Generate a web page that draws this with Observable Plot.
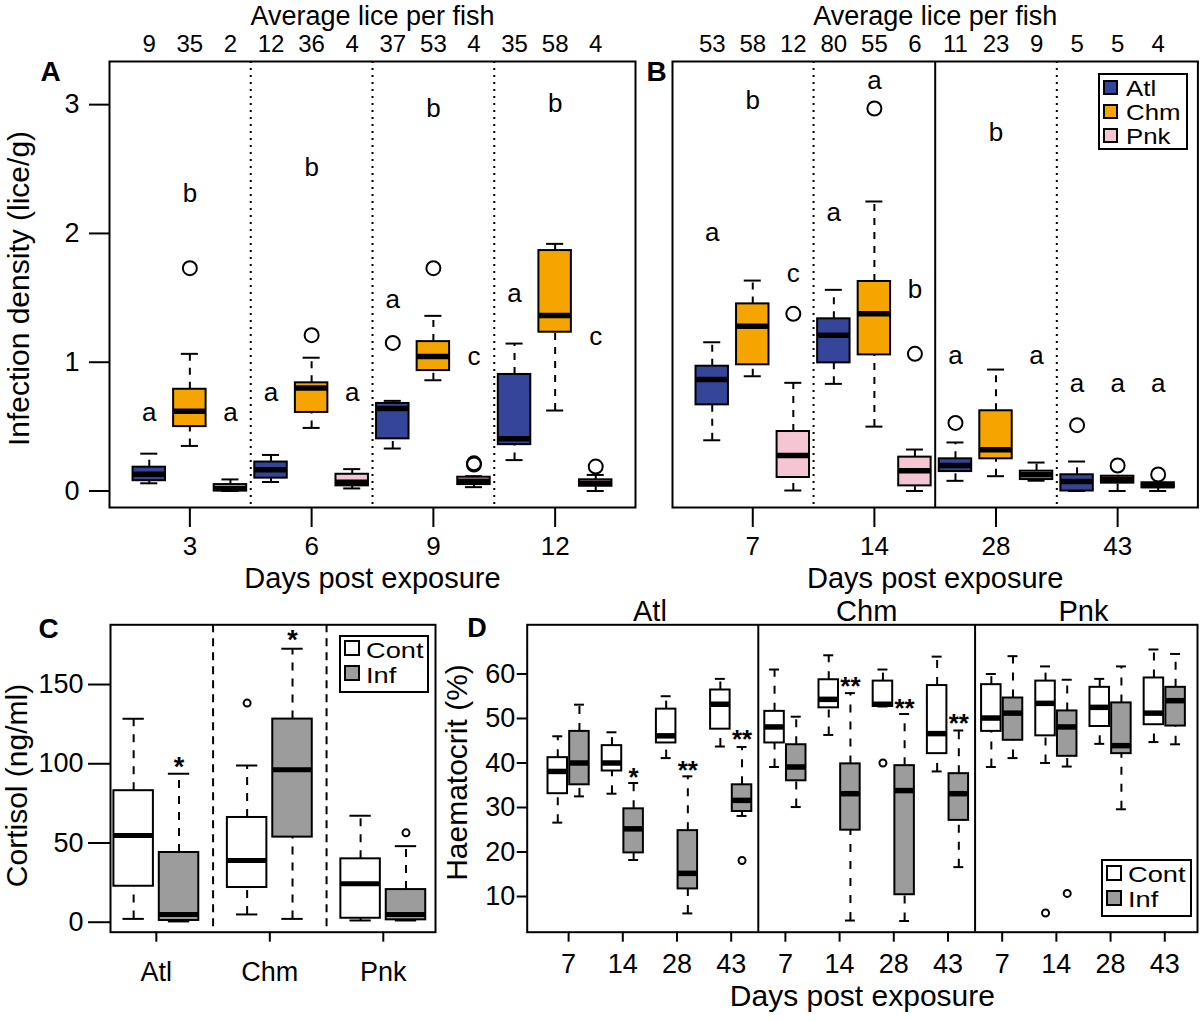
<!DOCTYPE html>
<html>
<head>
<meta charset="utf-8">
<script src="https://cdn.jsdelivr.net/npm/d3@7"></script>
<script src="https://cdn.jsdelivr.net/npm/@observablehq/plot@0.6"></script>
<style>
  body { margin: 0; background: #fff; }
  #root { position: relative; width: 1200px; height: 1021px; overflow: hidden; background: #fff;
          font-family: "Liberation Sans", Arial, Helvetica, sans-serif; color: #000; }
  .panel { position: absolute; }
  .legend { position: absolute; box-sizing: border-box; border: 2px solid #000; background: #fff; }
  .legend .inner { position: relative; }
  .legend .row { display: flex; align-items: center; white-space: nowrap; }
  .legend .sw { box-sizing: border-box; border: 2px solid #000; flex: none; }
  .legend .lab { display: inline-block; position: relative; transform-origin: 0 50%; }
</style>
</head>
<body>
<div id="root"></div>
<script>
// ---------- shared categories ----------
const species = ["Atl", "Chm", "Pnk"];
const speciesColors = ["#35469a", "#f6a500", "#f5c5d3"];
const treatments = ["Cont", "Inf"];
const treatColors = ["#ffffff", "#9c9c9c"];

// ---------- Panel A: infection density, days 3-12 ----------
const daysA = [3, 6, 9, 12];
const liceA = [9, 35, 2, 12, 36, 4, 37, 53, 4, 35, 58, 4];
const loA  = [0.06, 0.35, 0.00, 0.07, 0.49, 0.02, 0.33, 0.86, 0.03, 0.24, 0.625, 0.00];
const q1A  = [0.08, 0.50, 0.00, 0.10, 0.61, 0.04, 0.405, 0.935, 0.05, 0.36, 1.233, 0.037];
const medA = [0.13, 0.62, 0.02, 0.165, 0.80, 0.068, 0.64, 1.045, 0.076, 0.405, 1.363, 0.06];
const q3A  = [0.185, 0.79, 0.05, 0.225, 0.84, 0.13, 0.68, 1.16, 0.107, 0.905, 1.867, 0.087];
const hiA  = [0.29, 1.065, 0.09, 0.28, 1.035, 0.17, 0.70, 1.36, 0.115, 1.145, 1.919, 0.125];
const outA = [[], [1.73], [], [], [1.21], [], [1.15], [1.73], [0.205, 0.215], [], [], [0.19]];
const letterA  = ["a", "b", "a", "a", "b", "a", "a", "b", "c", "a", "b", "c"];
const letterYA = [0.61, 2.31, 0.61, 0.767, 2.514, 0.767, 1.485, 2.967, 1.04, 1.53, 3.006, 1.2];

// ---------- Panel B: infection density, days 7-43 ----------
const daysB = [7, 14, 28, 43];
const liceB = [53, 58, 12, 80, 55, 6, 11, 23, 9, 5, 5, 4];
const loB  = [0.394, 0.891, 0.004, 0.832, 0.50, 0.0, 0.079, 0.115, 0.08, 0.0, 0.0, 0.0];
const q1B  = [0.669, 0.98, 0.105, 0.995, 1.057, 0.04, 0.151, 0.25, 0.089, 0.0, 0.061, 0.025];
const medB = [0.866, 1.28, 0.276, 1.21, 1.376, 0.157, 0.198, 0.32, 0.126, 0.074, 0.089, 0.043];
const q3B  = [0.969, 1.453, 0.462, 1.337, 1.627, 0.263, 0.25, 0.623, 0.154, 0.126, 0.115, 0.064];
const hiB  = [1.155, 1.634, 0.84, 1.562, 2.248, 0.322, 0.377, 0.943, 0.221, 0.229, 0.115, 0.064];
const outB = [[], [], [1.376], [], [2.97], [1.065], [0.529], [], [], [0.511], [0.198], [0.128]];
const letterB  = ["a", "b", "c", "a", "a", "b", "a", "b", "a", "a", "a", "a"];
const letterYB = [2.009, 3.03, 1.686, 2.165, 3.187, 1.562, 1.052, 2.786, 1.052, 0.837, 0.837, 0.837];

// ---------- Panel C: cortisol ----------
const loC  = [2.1, 0.5, 4.9, 2.1, 1.1, 1.1];
const q1C  = [22.7, 1.1, 21.9, 53.7, 2.5, 1.5];
const medC = [54.7, 4.9, 39.0, 96.2, 24.2, 4.9];
const q3C  = [83.0, 44.0, 66.1, 128.2, 40.0, 20.6];
const hiC  = [128.4, 93.7, 98.9, 172.6, 67.2, 48.0];
const outC = [[], [], [138.3], [], [], [56.4]];
const starC  = ["", "*", "", "*", "", ""];
const starYC = [null, 102, null, 182, null, null];

// ---------- Panel D: haematocrit (species x day x treatment) ----------
const loD  = [26.6, 32.5, 33.1, 18.2, 41.1, 6.2, 43.7, 28.1,
              39.1, 30.1, 46.3, 4.6, 52.7, 4.5, 38.1, 16.6,
              39.1, 41.1, 40.0, 39.2, 44.3, 29.6, 44.7, 44.2];
const q1D  = [33.1, 35.1, 38.2, 19.8, 44.5, 11.7, 47.6, 29.1,
              44.5, 36.0, 52.4, 24.9, 52.7, 10.4, 42.1, 27.1,
              47.1, 45.1, 46.1, 41.5, 48.2, 42.1, 48.6, 48.3];
const medD = [38.1, 40.0, 40.0, 25.2, 46.1, 15.2, 53.2, 31.6,
              48.1, 39.1, 54.3, 33.1, 53.2, 33.8, 46.6, 33.1,
              50.1, 51.2, 53.4, 48.1, 52.5, 43.9, 51.2, 54.0];
const q3D  = [41.2, 47.1, 43.9, 29.7, 52.1, 24.8, 56.4, 35.1,
              51.6, 44.1, 58.7, 39.8, 58.4, 39.4, 57.4, 37.6,
              57.6, 54.6, 58.4, 51.7, 57.0, 53.5, 59.1, 57.0];
const hiD  = [46.0, 53.1, 46.9, 35.5, 55.0, 37.0, 58.9, 43.6,
              61.0, 50.4, 64.2, 55.7, 61.0, 51.0, 63.9, 47.3,
              60.0, 64.0, 61.7, 58.7, 58.9, 61.7, 65.5, 64.5];
const outD = [[], [], [], [], [], [], [], [18.1],
              [], [], [], [], [40.0], [], [], [],
              [], [], [6.3], [10.7], [], [], [], []];
const starD  = ["", "", "", "*", "", "**", "", "**",
                "", "", "", "**", "", "**", "", "**",
                "", "", "", "", "", "", "", ""];
const starYD = [null, null, null, 38.3, null, 39.8, null, 46.7,
                null, null, null, 58.7, null, 53.8, null, 50.5,
                null, null, null, null, null, null, null, null];

// ---------- helpers ----------
const FONT = '"Liberation Sans", Arial, Helvetica, sans-serif';
const baseStyle = {fontFamily: FONT, fontSize: "27px", background: "transparent", overflow: "visible", color: "#000"};
const intFmt = d => String(d);

function boxMarks(rows, o) {
  const outs = rows.flatMap(d => d.out.map(v => ({pos: d.pos, v})));
  return [
    Plot.ruleX(rows, {x: "pos", y1: "q3", y2: "hi", stroke: "black", strokeWidth: o.lw, strokeDasharray: o.dash}),
    Plot.ruleX(rows, {x: "pos", y1: "lo", y2: "q1", stroke: "black", strokeWidth: o.lw, strokeDasharray: o.dash}),
    Plot.ruleY(rows, {y: "hi", x1: d => d.pos - o.cap, x2: d => d.pos + o.cap, stroke: "black", strokeWidth: o.lw}),
    Plot.ruleY(rows, {y: "lo", x1: d => d.pos - o.cap, x2: d => d.pos + o.cap, stroke: "black", strokeWidth: o.lw}),
    Plot.rect(rows, {x1: d => d.pos - o.half, x2: d => d.pos + o.half, y1: "q1", y2: "q3",
                     fill: "fill", stroke: "black", strokeWidth: o.lw}),
    Plot.ruleY(rows, {y: "med", x1: d => d.pos - o.half, x2: d => d.pos + o.half, stroke: "black", strokeWidth: o.medW}),
    Plot.dot(outs, {x: "pos", y: "v", r: o.r, stroke: "black", strokeWidth: o.lw, fill: "none"})
  ];
}

function yTitle(text, dx, dy) {
  return Plot.text([text], {text: d => d, frameAnchor: "left", textAnchor: "middle", lineAnchor: "middle",
                            rotate: -90, dx, dy, fontSize: 30});
}

function place(el, left, top) {
  const wrap = document.createElement("div");
  wrap.className = "panel";
  wrap.style.left = left + "px";
  wrap.style.top = top + "px";
  wrap.appendChild(el);
  document.getElementById("root").appendChild(wrap);
}

function legend({left, top, width, height, items, fontSize, stretch, textDy, sw, swLeft, gap, rowH, shift}) {
  const div = document.createElement("div");
  div.className = "legend";
  Object.assign(div.style, {left: left + "px", top: top + "px", width: width + "px", height: height + "px"});
  const inner = document.createElement("div");
  inner.className = "inner";
  inner.style.top = shift + "px";
  items.forEach(([label, color]) => {
    const row = document.createElement("div");
    row.className = "row";
    row.style.height = rowH + "px";
    row.style.fontSize = fontSize + "px";
    const s = document.createElement("div");
    s.className = "sw";
    Object.assign(s.style, {width: sw + "px", height: sw + "px", background: color, marginLeft: swLeft + "px", marginRight: gap + "px"});
    const t = document.createElement("span");
    t.className = "lab";
    Object.assign(t.style, {height: rowH + "px", lineHeight: rowH + "px", top: textDy + "px",
                            transform: `scaleX(${stretch})`});
    t.textContent = label;
    row.appendChild(s);
    row.appendChild(t);
    inner.appendChild(row);
  });
  div.appendChild(inner);
  document.getElementById("root").appendChild(div);
}

// ---------- Panels A and B ----------
function densityRows(lice, lo, q1, med, q3, hi, out, letter, letterY) {
  return lice.map((n, i) => ({
    pos: i + 1, lo: lo[i], q1: q1[i], med: med[i], q3: q3[i], hi: hi[i], out: out[i],
    fill: speciesColors[i % species.length], lice: n, letter: letter[i], letY: letterY[i]
  }));
}
const rowsA = densityRows(liceA, loA, q1A, medA, q3A, hiA, outA, letterA, letterYA);
const rowsB = densityRows(liceB, loB, q1B, medB, q3B, hiB, outB, letterB, letterYB);
const densOpts = {half: 0.4, cap: 0.21, lw: 2, medW: 5.5, r: 7, dash: "7,7"};
const yDomAB = [-0.128, 3.335];
const xDomAB = [0.02, 12.98];

function densityPlot({rows, days, width, marginLeft, separators, solid, yAxis, letter}) {
  const tickMap = new Map(days.map((d, g) => [2 + 3 * g, d]));
  const marks = [
    Plot.ruleX(separators, {stroke: "black", strokeWidth: 2, strokeDasharray: "2,5"}),
    Plot.ruleX(solid, {stroke: "black", strokeWidth: 2}),
    ...boxMarks(rows, densOpts),
    Plot.text(rows, {x: "pos", y: "letY", text: "letter", fontSize: 26}),
    Plot.text(rows, {x: "pos", text: "lice", frameAnchor: "top", dy: -9.3, lineAnchor: "bottom", fontSize: 24}),
    Plot.text(["Average lice per fish"], {text: d => d, frameAnchor: "top", dy: -37, lineAnchor: "bottom", fontSize: 27}),
    Plot.axisX({ticks: [...tickMap.keys()], tickFormat: d => tickMap.get(d), tickSize: 20, tickPadding: 9.5,
                strokeWidth: 2, fontSize: 26, label: null}),
    Plot.text(["Days post exposure"], {text: d => d, frameAnchor: "bottom", dy: 80, lineAnchor: "bottom", fontSize: 29}),
    Plot.text([letter], {text: d => d, frameAnchor: "top-left", textAnchor: "start", lineAnchor: "bottom",
                         dx: letter === "A" ? -69 : -26, dy: 19, fontWeight: "bold", fontSize: 28}),
    Plot.frame({stroke: "black", strokeWidth: 2})
  ];
  if (yAxis) {
    marks.push(
      Plot.axisY({ticks: [0, 1, 2, 3], tickFormat: intFmt, tickSize: 20, tickPadding: 10, strokeWidth: 2, fontSize: 27, label: null}),
      yTitle("Infection density (lice/g)", -90, 4)
    );
  }
  return Plot.plot({
    width, height: 590, marginLeft, marginRight: width === 640 ? 5 : 2.6, marginTop: 61, marginBottom: 83,
    x: {domain: xDomAB}, y: {domain: yDomAB, axis: yAxis ? undefined : null},
    color: {type: "identity"},
    style: baseStyle,
    marks
  });
}

place(densityPlot({rows: rowsA, days: daysA, width: 640, marginLeft: 109, separators: [3.5, 6.5, 9.5], solid: [], yAxis: true, letter: "A"}), 0, 0);
place(densityPlot({rows: rowsB, days: daysB, width: 560, marginLeft: 32, separators: [3.5, 9.5], solid: [6.5], yAxis: false, letter: "B"}), 640, 0);

legend({left: 1098, top: 73, width: 90, height: 77, fontSize: 21.5, stretch: 1.2, textDy: 1.5,
        sw: 15, swLeft: 3, gap: 7.7, rowH: 24.1, shift: 0,
        items: species.map((s, i) => [s, speciesColors[i]])});

// ---------- Panel C ----------
const rowsC = loC.map((_, i) => ({
  pos: 1 + 2.5 * Math.floor(i / 2) + (i % 2), lo: loC[i], q1: q1C[i], med: medC[i], q3: q3C[i], hi: hiC[i],
  out: outC[i], fill: treatColors[i % 2], star: starC[i], starY: starYC[i]
}));
const tickMapC = new Map(species.map((s, g) => [1.5 + 2.5 * g, s]));
const plotC = Plot.plot({
  width: 440, height: 431, marginLeft: 110, marginRight: 5, marginTop: 34.3, marginBottom: 89.3,
  x: {domain: [0.49, 7.65]}, y: {domain: [-6.3, 187.7]},
  color: {type: "identity"},
  style: baseStyle,
  marks: [
    Plot.ruleX([2.75, 5.25], {stroke: "black", strokeWidth: 2, strokeDasharray: "8,6"}),
    ...boxMarks(rowsC, {half: 0.435, cap: 0.235, lw: 2, medW: 5, r: 3.5, dash: "8,8"}),
    Plot.text(rowsC.filter(d => d.star), {x: "pos", y: "starY", text: "star", fontSize: 27, fontWeight: "bold", dy: 7}),
    Plot.axisX({ticks: [...tickMapC.keys()], tickFormat: d => tickMapC.get(d), tickSize: 10, tickPadding: 20,
                strokeWidth: 2, fontSize: 27, label: null}),
    Plot.axisY({ticks: [0, 50, 100, 150], tickFormat: intFmt, tickSize: 22, tickPadding: 5, strokeWidth: 2, fontSize: 27, label: null}),
    yTitle("Cortisol (ng/ml)", -93, 7),
    Plot.text(["C"], {text: d => d, frameAnchor: "top-left", textAnchor: "start", lineAnchor: "bottom",
                      dx: -72, dy: 12.7, fontWeight: "bold", fontSize: 28}),
    Plot.frame({stroke: "black", strokeWidth: 2})
  ]
});
place(plotC, 0, 590);
legend({left: 339, top: 635, width: 90, height: 57.5, fontSize: 22.3, stretch: 1.22, textDy: 2,
        sw: 16, swLeft: 3.3, gap: 5.7, rowH: 25, shift: -1.2,
        items: treatments.map((t, i) => [t, treatColors[i]])});

// ---------- Panel D ----------
const rowsD = loD.map((_, i) => ({
  pos: 1 + 2.5 * Math.floor(i / 2) + (i % 2), lo: loD[i], q1: q1D[i], med: medD[i], q3: q3D[i], hi: hiD[i],
  out: outD[i], fill: treatColors[i % 2], star: starD[i], starY: starYD[i]
}));
const tickMapD = new Map(d3.range(species.length * daysB.length).map(k => [1.5 + 2.5 * k, daysB[k % daysB.length]]));
const headersD = species.map((s, g) => ({s, pos: 5.25 + 10 * g}));
const plotD = Plot.plot({
  width: 760, height: 431, marginLeft: 86.7, marginRight: 3, marginTop: 34.3, marginBottom: 89.3,
  x: {domain: [-0.41, 30.51]}, y: {domain: [1.98, 71.05]},
  color: {type: "identity"},
  style: baseStyle,
  marks: [
    Plot.ruleX([10.25, 20.25], {stroke: "black", strokeWidth: 2}),
    ...boxMarks(rowsD, {half: 0.45, cap: 0.23, lw: 2, medW: 5.5, r: 3.5, dash: "8,9"}),
    Plot.text(rowsD.filter(d => d.star), {x: "pos", y: "starY", text: "star", fontSize: 26, fontWeight: "bold", dy: 7}),
    Plot.text(headersD, {x: "pos", text: "s", frameAnchor: "top", lineAnchor: "bottom", dy: -4.3, fontSize: 29}),
    Plot.axisX({ticks: [...tickMapD.keys()], tickFormat: d => tickMapD.get(d), tickSize: 10, tickPadding: 11.6,
                strokeWidth: 2, fontSize: 27, label: null}),
    Plot.axisY({ticks: [10, 20, 30, 40, 50, 60], tickFormat: intFmt, tickSize: 10, tickPadding: 2, strokeWidth: 2, fontSize: 27, label: null}),
    Plot.text(["Days post exposure"], {text: d => d, frameAnchor: "bottom", dy: 74, lineAnchor: "bottom", fontSize: 30}),
    yTitle("Haematocrit (%)", -69.7, -6),
    Plot.text(["D"], {text: d => d, frameAnchor: "top-left", textAnchor: "start", lineAnchor: "bottom",
                      dx: -60, dy: 12.4, fontWeight: "bold", fontSize: 27}),
    Plot.frame({stroke: "black", strokeWidth: 2})
  ]
});
place(plotD, 440, 590);
legend({left: 1101, top: 859.3, width: 91, height: 57.4, fontSize: 22.3, stretch: 1.22, textDy: 2,
        sw: 16, swLeft: 3, gap: 6.3, rowH: 25, shift: -1,
        items: treatments.map((t, i) => [t, treatColors[i]])});
</script>
</body>
</html>
